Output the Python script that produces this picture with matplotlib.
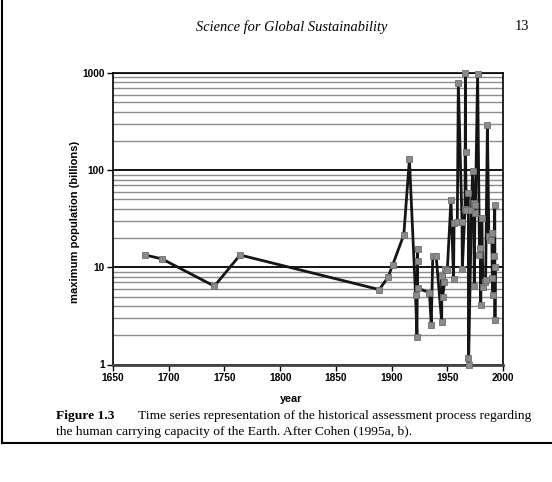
import matplotlib.pyplot as plt
from matplotlib.ticker import FixedLocator, FixedFormatter, LogLocator, NullFormatter

# Estimativas de capacidade de suporte (bilhões)
anos = [1679, 1694, 1741, 1764, 1889, 1897, 1901, 1911, 1916,
        1921.5, 1922.8, 1923.3, 1923.3, 1923.4,
        1934, 1935.6, 1937, 1940, 1945, 1945.1, 1945.8, 1947.5, 1947.7, 1950,
        1953.3, 1955.6, 1956.1, 1959, 1959.9, 1963.2, 1963.5, 1965.9, 1966.3, 1966.4, 1967,
        1968.9, 1969, 1969.1, 1971.7, 1972.7, 1973.7, 1974.2, 1974.8, 1975.3, 1977.2,
        1978.9, 1979.6, 1980, 1981, 1982, 1984.2, 1984.4, 1986, 1987.3, 1989.3, 1990,
        1990.4, 1991, 1991.6, 1992.6, 1992.8, 1993]
populacao = [13.4, 12.2, 6.4, 13.4, 5.9, 8.0, 10.6, 21.7, 129,
             5.2, 1.93, 15.6, 11.7, 6.1,
             5.5, 2.57, 13.0, 13.0, 2.71, 8.2, 4.9, 7.0, 9.5, 9.3,
             49.4, 7.6, 28.6, 29.5, 789, 29.5, 9.7, 39.6, 1000, 154, 39,
             58.8, 1.17, 1.0, 39, 98, 45.5, 6.5, 36.6, 43.9, 984,
             13.4, 15.7, 4.07, 32.2, 6.3, 7.0, 7.4, 293, 20.9, 19.1, 22.8,
             7.7, 5.2, 13.2, 43.4, 2.86, 10.1]

W, H = 552, 482
fig = plt.figure(figsize=(W / 100, H / 100), dpi=100)

x0, x1, y0, y1 = 113, 503, 73, 364.5
ax = fig.add_axes([x0 / W, 1 - y1 / H, (x1 - x0) / W, (y1 - y0) / H])

ax.plot(anos, populacao, '-s', color='#151515', linewidth=2, markersize=5,
        markerfacecolor='#8a8a8a', markeredgecolor='#6e6e6e', markeredgewidth=0.6,
        zorder=3, clip_on=False)

ax.set_yscale('log')
ax.set_xlim(1650, 2000)
ax.set_ylim(1, 1000)

ax.yaxis.set_major_locator(FixedLocator([1, 10, 100, 1000]))
ax.yaxis.set_major_formatter(FixedFormatter(['1', '10', '100', '1000']))
ax.yaxis.set_minor_locator(LogLocator(base=10, subs=range(2, 10)))
ax.yaxis.set_minor_formatter(NullFormatter())
ax.set_xticks(range(1650, 2001, 50))

ax.yaxis.grid(True, which='major', color='black', linewidth=1.3, zorder=1)
ax.yaxis.grid(True, which='minor', color='#8c8c8c', linewidth=1.0, zorder=1)
ax.set_axisbelow(True)

for lado in ['left', 'right', 'top']:
    ax.spines[lado].set_color('black')
    ax.spines[lado].set_linewidth(1.2)
ax.spines['bottom'].set_color('#444444')
ax.spines['bottom'].set_linewidth(2)

ax.tick_params(axis='both', which='major', direction='out', length=4, width=1,
               labelsize=7.3, pad=2)
ax.tick_params(axis='y', which='minor', length=0)
for rotulo in ax.get_xticklabels() + ax.get_yticklabels():
    rotulo.set_fontweight('bold')
    rotulo.set_fontfamily('Liberation Sans')

fig.text(75 / W, 1 - 222 / H, 'maximum population (billions)', rotation=90,
         ha='center', va='center', fontsize=8, fontweight='bold',
         family='Liberation Sans')
fig.text(291 / W, 1 - 399 / H, 'year', ha='center', va='center', fontsize=7.8,
         fontweight='bold', family='Liberation Sans')

# cabeçalho da página
fig.text(292 / W, 1 - 27 / H, 'Science for Global Sustainability', ha='center',
         va='center', fontsize=10.4, style='italic', family='Liberation Serif')
fig.text(522 / W, 1 - 27 / H, '13', ha='center', va='center', fontsize=10.4,
         family='Liberation Serif')

# legenda da figura
fonte = 9.7
fig.text(56 / W, 1 - 416 / H, 'Figure 1.3', ha='left', va='center', fontsize=fonte,
         fontweight='bold', family='Liberation Serif')
fig.text(531 / W, 1 - 416 / H,
         'Time series representation of the historical assessment process regarding',
         ha='right', va='center', fontsize=fonte, family='Liberation Serif')
fig.text(56 / W, 1 - 432 / H,
         'the human carrying capacity of the Earth. After Cohen (1995a, b).',
         ha='left', va='center', fontsize=fonte, family='Liberation Serif')

# moldura da página
fig.add_artist(plt.Line2D([2 / W, 2 / W], [1, 1 - 443 / H], color='black',
                          linewidth=1.5, transform=fig.transFigure))
fig.add_artist(plt.Line2D([2 / W, 1], [1 - 443 / H, 1 - 443 / H], color='black',
                          linewidth=1.5, transform=fig.transFigure))

fig.savefig('out.png', dpi=100)
